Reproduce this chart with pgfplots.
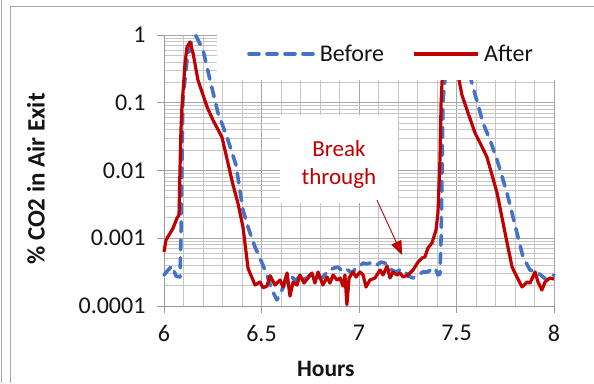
\documentclass[border=0pt]{standalone}
\usepackage{fontspec}
\setmainfont{Carlito}
\usepackage{pgfplots}
\usepackage{pgfplotstable}
\pgfplotsset{compat=1.18}
\usetikzlibrary{arrows.meta}

\definecolor{beforeblue}{RGB}{68,114,196}
\definecolor{afterred}{RGB}{192,0,0}
\definecolor{txt}{RGB}{20,20,20}
\newcommand\chartfont{\fontsize{24}{29}\selectfont}
\newcommand\notefont{\fontsize{23}{28}\selectfont}

% CO2 at the air exit, before the change
\pgfplotstableread{
h v
6.000 2.87e-4
6.021 3.40e-4
6.041 3.89e-4
6.062 2.77e-4
6.082 2.68e-4
6.087 1.04e-3
6.092 1.02e-2
6.097 0.110
6.118 0.430
6.144 0.840
6.164 0.970
6.200 0.600
6.236 0.217
6.277 0.0706
6.323 0.0312
6.369 0.0121
6.405 0.00261
6.436 0.00132
6.467 7.40e-4
6.503 4.31e-4
6.528 2.87e-4
6.554 1.72e-4
6.579 1.23e-4
6.600 1.61e-4
6.621 2.18e-4
6.641 2.42e-4
6.656 2.68e-4
6.677 2.34e-4
6.697 2.87e-4
6.718 2.50e-4
6.733 2.59e-4
6.754 2.97e-4
6.774 3.07e-4
6.795 2.59e-4
6.815 2.68e-4
6.836 3.18e-4
6.851 3.40e-4
6.872 3.64e-4
6.892 3.76e-4
6.908 3.40e-4
6.928 3.64e-4
6.949 3.29e-4
6.964 3.07e-4
6.985 3.64e-4
7.005 3.89e-4
7.021 4.31e-4
7.041 4.17e-4
7.056 4.31e-4
7.077 3.89e-4
7.092 4.03e-4
7.113 4.46e-4
7.133 4.31e-4
7.149 3.64e-4
7.169 3.40e-4
7.190 3.18e-4
7.210 3.40e-4
7.231 3.40e-4
7.251 2.77e-4
7.277 2.59e-4
7.303 2.87e-4
7.328 3.18e-4
7.349 3.18e-4
7.369 3.40e-4
7.390 3.64e-4
7.405 2.87e-4
7.415 2.97e-4
7.421 1.04e-3
7.426 1.02e-2
7.431 0.110
7.451 0.430
7.477 0.840
7.497 0.970
7.533 0.600
7.579 0.196
7.636 0.0502
7.672 0.0282
7.708 0.0143
7.759 0.00466
7.810 0.00120
7.841 5.30e-4
7.877 3.40e-4
7.913 3.18e-4
7.938 2.77e-4
7.964 2.42e-4
7.979 2.68e-4
8.000 2.87e-4
}\beforetab

% CO2 at the air exit, after the change
\pgfplotstableread{
h v
6.000 6.30e-4
6.010 9.40e-4
6.046 1.40e-3
6.067 1.99e-3
6.077 2.20e-3
6.082 1.02e-2
6.087 3.96e-2
6.092 0.0865
6.108 0.386
6.118 0.665
6.133 0.790
6.149 0.540
6.174 0.217
6.221 0.0865
6.251 0.0556
6.297 0.0312
6.328 0.0129
6.354 0.00611
6.379 0.00331
6.405 0.00147
6.431 3.60e-4
6.467 2.04e-4
6.492 2.26e-4
6.508 1.86e-4
6.528 1.97e-4
6.544 2.80e-4
6.569 2.04e-4
6.595 2.42e-4
6.610 1.91e-4
6.631 3.07e-4
6.646 1.40e-4
6.662 2.26e-4
6.682 2.04e-4
6.697 2.87e-4
6.718 2.18e-4
6.738 2.59e-4
6.759 3.07e-4
6.774 2.18e-4
6.790 3.18e-4
6.815 2.04e-4
6.836 2.68e-4
6.851 2.18e-4
6.867 2.87e-4
6.887 2.42e-4
6.903 2.59e-4
6.918 1.97e-4
6.928 2.87e-4
6.938 1.05e-4
6.949 2.59e-4
6.969 3.18e-4
6.985 2.68e-4
7.005 3.18e-4
7.021 2.87e-4
7.036 1.91e-4
7.056 2.42e-4
7.082 2.59e-4
7.108 3.40e-4
7.123 2.87e-4
7.144 3.89e-4
7.159 2.59e-4
7.174 3.18e-4
7.195 2.87e-4
7.210 3.07e-4
7.226 2.68e-4
7.251 2.87e-4
7.277 3.40e-4
7.303 4.46e-4
7.323 5.10e-4
7.338 5.30e-4
7.354 7.20e-4
7.374 8.50e-4
7.395 1.32e-3
7.405 2.40e-3
7.415 0.0143
7.421 0.099
7.431 0.430
7.451 0.840
7.467 0.900
7.487 0.710
7.508 0.257
7.528 0.130
7.554 0.0782
7.595 0.0358
7.626 0.0238
7.656 0.0158
7.682 0.00858
7.708 0.00466
7.749 0.00120
7.785 3.76e-4
7.810 2.68e-4
7.836 1.91e-4
7.862 2.26e-4
7.877 2.18e-4
7.903 3.18e-4
7.918 2.26e-4
7.938 1.72e-4
7.954 2.26e-4
7.979 2.59e-4
8.000 2.50e-4
}\aftertab

\begin{document}
\begin{tikzpicture}
\useasboundingbox (0pt,0pt) rectangle (594pt,383pt);
% frame of the surrounding sheet
\draw[gray!70, line width=0.8pt] (1.5pt,0pt) -- (1.5pt,383pt);
\draw[gray!70, line width=0.8pt] (10.5pt,0pt) -- (10.5pt,376.5pt) -- (594pt,376.5pt);

\begin{axis}[
  at={(164pt,77pt)}, anchor=south west,
  scale only axis, width=390pt, height=271pt,
  xmin=6, xmax=8, ymin=1e-4, ymax=1,
  ymode=log,
  clip=false,
  axis x line*=bottom, axis y line*=left,
  axis line style={gray!80, line width=0.8pt},
  xtick={6,6.5,7,7.5,8}, xticklabels={6,6.5,7,7.5,8},
  minor xtick={6.1,6.2,6.3,6.4,6.6,6.7,6.8,6.9,7.1,7.2,7.3,7.4,7.6,7.7,7.8,7.9},
  ytick={1e-4,1e-3,1e-2,1e-1,1}, yticklabels={0.0001,0.001,0.01,0.1,1},
  minor ytick={2e-4,3e-4,4e-4,5e-4,6e-4,7e-4,8e-4,9e-4,
               2e-3,3e-3,4e-3,5e-3,6e-3,7e-3,8e-3,9e-3,
               2e-2,3e-2,4e-2,5e-2,6e-2,7e-2,8e-2,9e-2,
               0.2,0.3,0.4,0.5,0.6,0.7,0.8,0.9},
  grid=both,
  major grid style={gray!70, line width=0.8pt},
  minor grid style={gray!45, line width=0.8pt},
  tick align=outside,
  major tick length=7pt, minor tick length=0pt,
  tick style={gray!80, line width=0.8pt},
  tick label style={font=\chartfont, text=txt},
  yticklabel style={xshift=-8pt},
  xticklabel style={yshift=-9pt},
  xlabel={Hours},
  ylabel={\% CO2 in Air Exit},
  xlabel style={at={(axis description cs:0.415,-0.2325)}, anchor=center,
    font=\fontsize{23.5}{28}\selectfont\bfseries, text=txt},
  ylabel style={at={(axis description cs:-0.328,0.4686)}, anchor=center,
    font=\fontsize{25}{30}\selectfont\bfseries, text=txt},
  legend columns=2,
  legend style={at={(rel axis cs:0.2128,0.93)}, anchor=west, draw=none, fill=none,
    font=\chartfont, text=txt, inner sep=0pt,
    nodes={inner sep=0pt},
    /tikz/every odd column/.append style={column sep=5pt},
    /tikz/every even column/.append style={column sep=28pt}},
  legend image code/.code={\draw[#1] (0pt,0pt) -- (64pt,0pt);},
]
\addplot[beforeblue, line width=3.6pt, line cap=round, line join=round,
  dash pattern=on 10pt off 8pt] table[x=h, y=v] {\beforetab};
\addlegendentry{Before}
\addplot[afterred, line width=3.2pt, line join=round] table[x=h, y=v] {\aftertab};
\addlegendentry{After}

% white panel behind the legend
\fill[white] (axis cs:6.272,0.2165) rectangle (axis cs:8.1,2);
% white panel behind the note
\fill[white] (axis cs:6.595,0.0659) rectangle (axis cs:7.2,0.00331);
\node[text=afterred, align=center, font=\notefont] at (axis cs:6.897,0.01247) {Break\\through};
\draw[afterred, line width=0.9pt, -{Triangle[length=14pt,width=11pt]}]
  (axis cs:7.092,0.00367) -- (axis cs:7.221,5.66e-4);
\end{axis}
\end{tikzpicture}
\end{document}
